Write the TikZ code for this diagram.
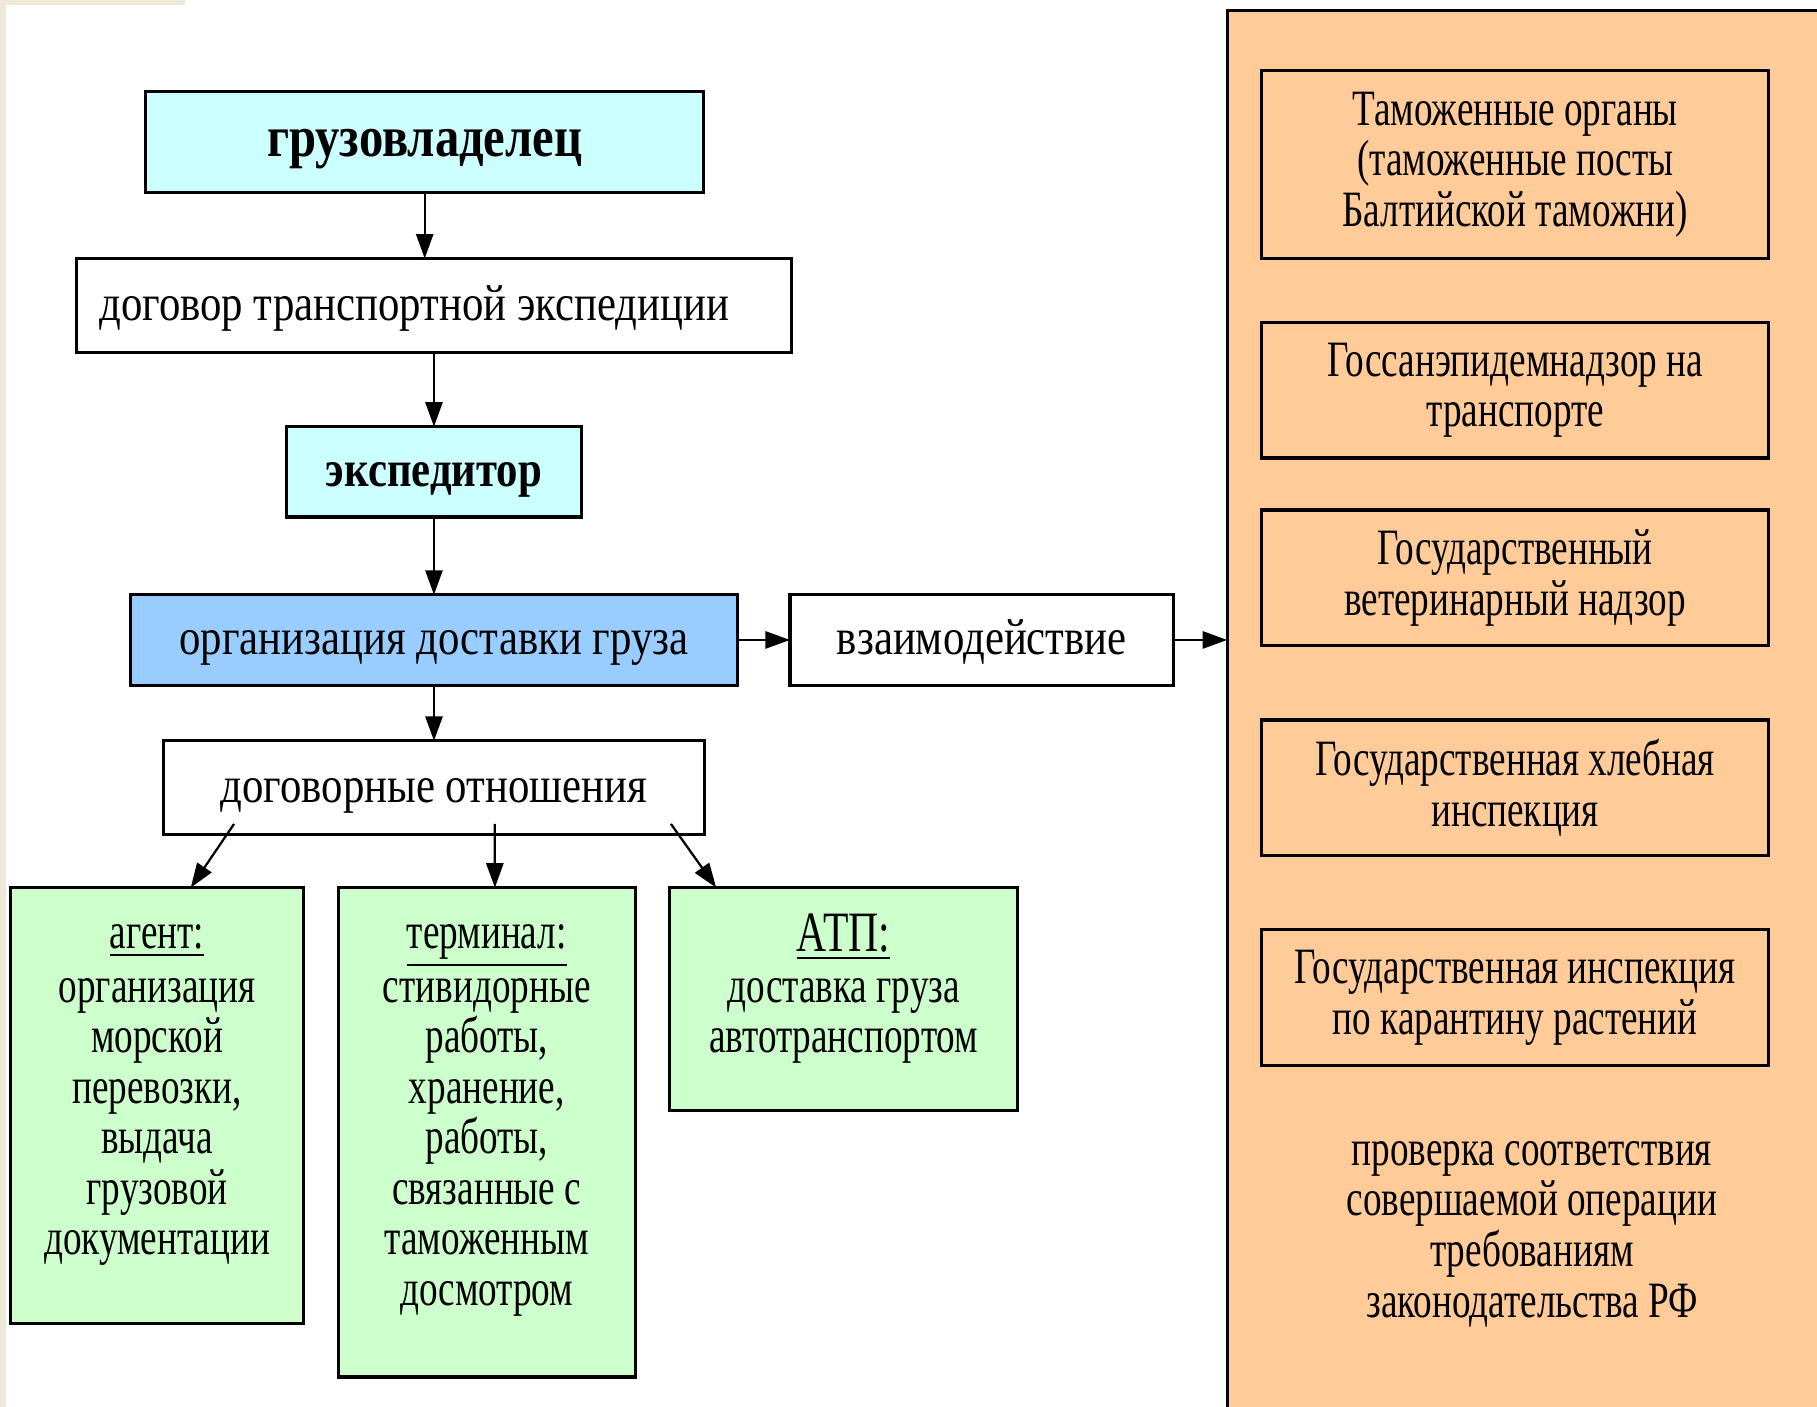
\documentclass[tikz,border=0pt]{standalone}
\usepackage{fontspec}
\setmainfont[FakeStretch=0.84]{Liberation Serif}
\newfontfamily\narrowfont[FakeStretch=0.73]{Liberation Serif}
\usetikzlibrary{positioning,arrows.meta}
\definecolor{cyanfill}{HTML}{CCFFFF}
\definecolor{bluefill}{HTML}{99CCFF}
\definecolor{greenfill}{HTML}{CCFFCC}
\definecolor{peachfill}{HTML}{FFCC99}
\definecolor{beige}{HTML}{EEE8D8}
\begin{document}
\begin{tikzpicture}[x=0.01cm, y=-0.01cm, node distance={5mm},
	blk/.style = {draw, line width=0.8pt, inner sep=0pt, outer sep=0pt, align=center, font=\fontsize{12.5}{12.4}\selectfont},
	oneline/.style = {blk, text height=8.5pt, text depth=1.2pt},
	cyanblk/.style = {oneline, fill=cyanfill, font=\fontsize{14.2}{16}\selectfont\bfseries},
	greenblk/.style = {blk, fill=greenfill, anchor=north west},
	peachblk/.style = {blk, fill=peachfill, minimum width=4.37cm, minimum height=1.17cm, font=\fontsize{12.5}{12.4}\selectfont\narrowfont},
	txt/.style = {inner sep=0pt, align=center, font=\fontsize{12.5}{12.4}\selectfont\narrowfont},
	arr/.style = {line width=0.55pt, -{Triangle[length=6pt,width=4.2pt]}}]
	\useasboundingbox (0,0) rectangle (1568,1214);
	\fill[beige] (0,0) rectangle (5,1214);
	\fill[beige] (0,0) rectangle (160,4);
	
	% right panel
	\node[draw, line width=0.8pt, outer sep=0pt, fill=peachfill, anchor=north west, minimum width=5.4cm, minimum height=12.4cm] (panel) at (1059,9) {};
	
	\node[cyanblk, minimum width=4.81cm, minimum height=0.87cm] (owner) at (366.5,122.5) {грузовладелец};
	\node[oneline, minimum width=6.17cm, minimum height=0.81cm] (contract)[below=0.57cm of owner, xshift=0.08cm] {договор транспортной экспедиции\hspace{9.7pt}};
	\node[cyanblk, minimum width=2.55cm, minimum height=0.78cm, font=\fontsize{12.5}{15}\selectfont\bfseries] (forwarder)[below=0.64cm of contract] {экспедитор};
	\node[oneline, fill=bluefill, minimum width=5.24cm, minimum height=0.78cm] (delivery)[below=0.67cm of forwarder] {организация доставки груза};
	\node[oneline, minimum width=3.31cm, minimum height=0.78cm] (interact)[right=0.45cm of delivery] {взаимодействие};
	\node[oneline, minimum width=4.66cm, minimum height=0.81cm] (relations)[below=0.48cm of delivery] {договорные отношения};
	
	% green boxes
	\node[greenblk, minimum width=2.53cm, minimum height=3.76cm] (agent) at (9,766) {};
	\node[greenblk, minimum width=2.56cm, minimum height=4.22cm] (terminal) at (292,766) {};
	\node[greenblk, minimum width=3.00cm, minimum height=1.92cm] (atp) at (578,766) {};
	\node[txt, anchor=north] at ([yshift=-0.31cm]agent.north) {\underline{агент:}\\[0.8pt] организация\\ морской\\ перевозки,\\ выдача\\ грузовой\\ документации};
	\node[txt, anchor=north] at ([yshift=-0.31cm]terminal.north) {\underline{терминал:}\\[0.8pt] стивидорные\\ работы,\\ хранение,\\ работы,\\ связанные с\\ таможенным\\ досмотром};
	\node[txt, anchor=north] at ([yshift=-0.22cm]atp.north) {{\fontsize{14}{15}\selectfont\underline{АТП:}}\\ доставка груза\\ автотранспортом};
	
	% control bodies
	\node[peachblk, minimum height=1.62cm] (customs) at (1307.5,142) {Таможенные органы\\ (таможенные посты\\ Балтийской таможни)};
	\node[peachblk] (sanit)[below=0.55cm of customs] {Госсанэпидемнадзор на\\ транспорте};
	\node[peachblk] (vet)[below=0.45cm of sanit] {Государственный\\ ветеринарный надзор};
	\node[peachblk] (grain)[below=0.64cm of vet] {Государственная хлебная\\ инспекция};
	\node[peachblk] (plant)[below=0.64cm of grain] {Государственная инспекция\\ по карантину растений};
	\node[txt] (check) at (1322,1065) {проверка соответствия\\ совершаемой операции\\ требованиям\\ законодательства РФ};
	
	\coordinate (r1) at (202,711);
	\coordinate (r2) at (427,711);
	\coordinate (r3) at (579,711);
	
	\draw[arr] (owner.south) -- (owner.south |- contract.north);
	\draw[arr] (contract) -- (forwarder);
	\draw[arr] (forwarder) -- (delivery);
	\draw[arr] (delivery) -- (relations);
	\draw[arr] (delivery) -- (interact);
	\draw[arr] (interact.east) -- (interact.east -| panel.west);
	\draw[arr] (r1) -- ([xshift=0.29cm]agent.north);
	\draw[arr] (r2) -- ([xshift=0.07cm]terminal.north);
	\draw[arr] (r3) -- ([xshift=-1.1cm]atp.north);
	
\end{tikzpicture}
\end{document}
